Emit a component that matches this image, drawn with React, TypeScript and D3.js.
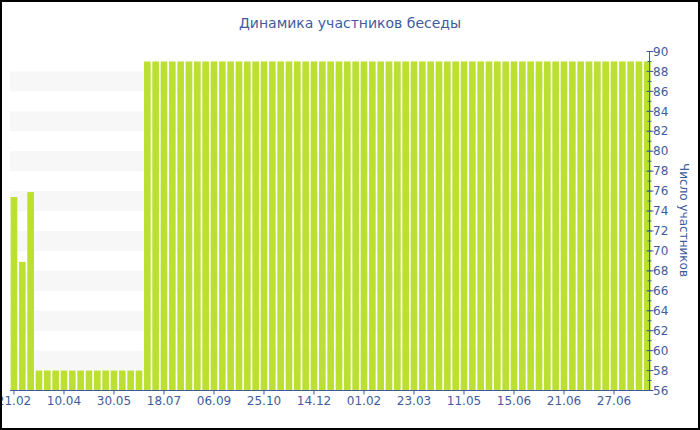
import React from "react";
import * as d3 from "d3";

const TITLE = "Динамика участников беседы";
const Y_LABEL = "Число участников";

const values: number[] = [
  75.4, 68.9, 75.9,
  58, 58, 58, 58, 58, 58, 58, 58, 58, 58, 58, 58, 58,
  89, 89, 89, 89, 89, 89, 89, 89, 89, 89,
  89, 89, 89, 89, 89, 89, 89, 89, 89, 89,
  89, 89, 89, 89, 89, 89, 89, 89, 89, 89,
  89, 89, 89, 89, 89, 89, 89, 89, 89, 89,
  89, 89, 89, 89, 89, 89, 89, 89, 89, 89,
  89, 89, 89, 89, 89, 89, 89, 89, 89, 89,
  89,
];

const tickLabels: string[] = [
  "21.02", "10.04", "30.05", "18.07", "06.09", "25.10", "14.12",
  "01.02", "23.03", "11.05", "15.06", "21.06", "27.06",
];
const tickEvery = 6;

const yMin = 56;
const yMax = 90;

const W = 700;
const H = 430;
const FONT = "'DejaVu Sans', Verdana, sans-serif";
const BLUE = "#3e5c9e";
const BAR = "#bbe032";

export default function App() {
  const idx = values.map((_, i) => i);
  const x = d3.scaleBand<number>().domain(idx).range([9.8, 651.5]).paddingInner(0.2).paddingOuter(0.1);
  const y = d3.scaleLinear().domain([yMin, yMax]).range([390.5, 51.5]);
  const plotLeft = 10;
  const axisX = 649.5;
  const bottom = y(yMin);

  const majors = d3.range(yMin, yMax + 1, 2);
  const minors = d3.range(yMin, yMax + 1, 1);
  const bands = d3.range(58, 88, 4);

  return (
    <svg width={W} height={H} style={{ position: "absolute", left: 0, top: 0, display: "block" }} fontFamily={FONT}>
      <rect x={0} y={0} width={W} height={H} fill="#fff" />
      {bands.map((v) => (
        <rect key={"b" + v} x={plotLeft} y={y(v + 2)} width={axisX - plotLeft} height={y(v) - y(v + 2)} fill="#f7f7f7" />
      ))}
      {values.map((v, i) => (
        <rect key={"r" + i} x={x(i)} y={y(v)} width={x.bandwidth()} height={bottom - y(v)} fill={BAR} />
      ))}
      <line x1={plotLeft} x2={axisX} y1={bottom} y2={bottom} stroke={BLUE} strokeWidth={1} />
      {tickLabels.map((t, k) => {
        const cx = (x(k * tickEvery) as number) + x.bandwidth() / 2;
        return (
          <g key={"t" + k}>
            <line x1={cx} x2={cx} y1={bottom} y2={bottom + 4} stroke={BLUE} />
            <text x={cx} y={405} textAnchor="middle" fontSize={12} fill={BLUE}>{t}</text>
          </g>
        );
      })}
      <line x1={axisX} x2={axisX} y1={y(yMax)} y2={bottom} stroke={BLUE} />
      {minors.map((v) => (
        <line key={"m" + v} x1={axisX - 2} x2={axisX + 2} y1={y(v)} y2={y(v)} stroke={BLUE} />
      ))}
      {majors.map((v) => (
        <g key={"M" + v}>
          <line x1={axisX - 3} x2={axisX + 4} y1={y(v)} y2={y(v)} stroke={BLUE} />
          <text x={axisX + 3.5} y={y(v)} dy="0.35em" fontSize={12} fill={BLUE}>{v}</text>
        </g>
      ))}
      <text transform={`translate(680,220) rotate(90)`} textAnchor="middle" fontSize={12} fill={BLUE}>{Y_LABEL}</text>
      <text x={350} y={28} textAnchor="middle" fontSize={14} fill={BLUE}>{TITLE}</text>
      <rect x={1} y={1} width={W - 2} height={H - 2} fill="none" stroke="#000" strokeWidth={2} />
    </svg>
  );
}
